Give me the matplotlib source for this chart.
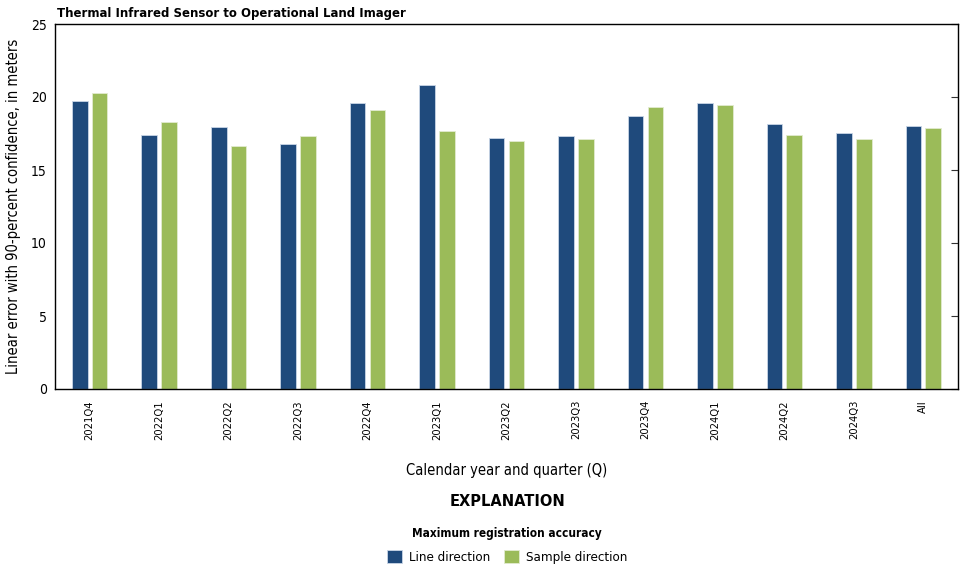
import matplotlib
matplotlib.use('Agg')
import matplotlib.pyplot as plt
import numpy as np

quarters = ['2021Q4', '2022Q1', '2022Q2', '2022Q3', '2022Q4', '2023Q1', '2023Q2',
            '2023Q3', '2023Q4', '2024Q1', '2024Q2', '2024Q3', 'All']
line_dir = [19.73, 17.37, 17.97, 16.80, 19.57, 20.84, 17.17, 17.35, 18.68, 19.57, 18.13, 17.56, 18.03]
sample_dir = [20.30, 18.29, 16.62, 17.33, 19.09, 17.69, 16.96, 17.12, 19.32, 19.43, 17.37, 17.12, 17.90]

plt.rcParams['font.family'] = ['DejaVu Sans']
plt.rcParams['font.stretch'] = 'condensed'

navy = '#1f4a7c'
green = '#9bbb59'

fig = plt.figure(figsize=(9.61, 5.69), dpi=100)
ax = fig.add_axes([55/961, 1-389/569, 903/961, 365/569])

x = np.arange(len(quarters))
w = 0.225
ax.bar(x - 0.143, line_dir, w, color=navy, edgecolor='#c9d6e6', linewidth=0.6, label='Line direction')
ax.bar(x + 0.143, sample_dir, w, color=green, edgecolor='#e2ebcf', linewidth=0.6, label='Sample direction')

ax.set_xlim(-0.5, len(quarters) - 0.5)
ax.set_ylim(0, 25)
ax.set_yticks([0, 5, 10, 15, 20, 25])
ax.set_xticks(x)
ax.set_xticklabels(quarters, rotation=90, fontsize=8)
ax.tick_params(axis='x', length=0, pad=8)
ax.tick_params(axis='y', length=0, labelsize=10, pad=6)
for s in ax.spines.values():
    s.set_color('#333333')
    s.set_linewidth(1.0)

# right-side inward ticks
ax2 = ax.twinx()
ax2.set_ylim(0, 25)
ax2.set_yticks([0, 5, 10, 15, 20, 25])
ax2.tick_params(axis='y', direction='in', length=5, labelright=False, color='#333333')

ax.set_ylabel('Linear error with 90-percent confidence, in meters', fontsize=10.5)
ax.yaxis.set_label_coords(-34/903, 0.5)
ax.set_xlabel('Calendar year and quarter (Q)', fontsize=10.5)
ax.xaxis.set_label_coords(0.5, -74/365)
fig.text(57/961, 1-13/569, 'Thermal Infrared Sensor to Operational Land Imager',
         fontsize=9.4, fontweight='bold', va='center', ha='left')

fig.text(507/961, 1-502/569, 'EXPLANATION', fontsize=11.7, fontweight='bold', ha='center', va='center')
fig.text(507/961, 1-534/569, 'Maximum registration accuracy', fontsize=8.5, fontweight='bold',
         ha='center', va='center')
fig.legend(loc='center', bbox_to_anchor=(507/961, 1-557/569), ncol=2, frameon=False,
           fontsize=9.5, handlelength=1.2, handleheight=1.2, handletextpad=0.5, columnspacing=1.0)

fig.savefig('out.png', dpi=100)
